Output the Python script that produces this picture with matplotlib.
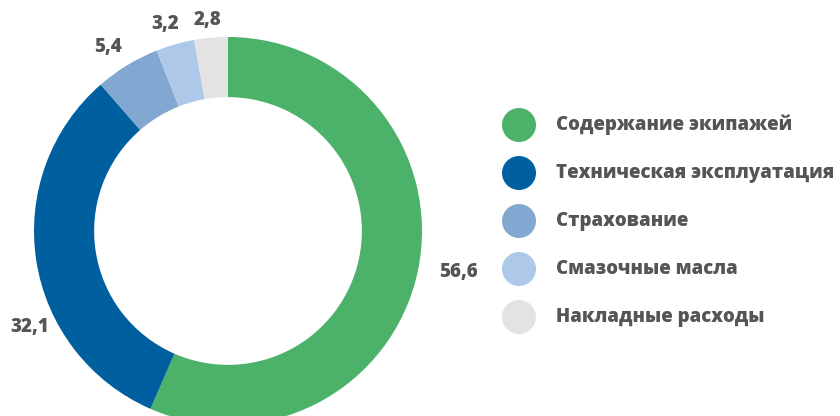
import matplotlib
matplotlib.use("Agg")
import matplotlib.pyplot as plt
from matplotlib.patches import Circle

plt.rcParams['font.family'] = ['Open Sans', 'DejaVu Sans']

# data
categories = ['Содержание экипажей', 'Техническая эксплуатация', 'Страхование',
              'Смазочные масла', 'Накладные расходы']
values = [56.6, 32.1, 5.4, 3.2, 2.8]
value_labels = ['56,6', '32,1', '5,4', '3,2', '2,8']
colors = ['#4CB169', '#00609F', '#82A8D1', '#AEC8EA', '#E3E3E3']

# label positions in donut units (outer radius = 1)
label_pos = [(1.19, -0.21), (-1.02, -0.495), (-0.62, 0.95), (-0.325, 1.065), (-0.108, 1.09)]

W, H = 840, 416
fig = plt.figure(figsize=(W / 100, H / 100), dpi=100)

cx, cy, R = 228, 231, 194
ax = fig.add_axes([(cx - R) / W, (H - cy - R) / H, 2 * R / W, 2 * R / H])
ax.pie(values, colors=colors, startangle=90, counterclock=False,
       radius=1, wedgeprops=dict(width=0.31, edgecolor='none'))
ax.set_xlim(-1, 1)
ax.set_ylim(-1, 1)
ax.set_aspect('equal')
ax.axis('off')
for (x, y), t in zip(label_pos, value_labels):
    ax.text(x, y, t, ha='center', va='center', fontsize=13.5, fontweight='heavy',
            color='#555555', clip_on=False)

# legend
lg = fig.add_axes([0, 0, 1, 1])
lg.set_xlim(0, W)
lg.set_ylim(H, 0)
lg.axis('off')
for i, (c, name) in enumerate(zip(colors, categories)):
    y = 125 + 48 * i
    lg.add_patch(Circle((519, y), 17, color=c, ec='none'))
    lg.text(556, y, name, ha='left', va='center', fontsize=13.4, fontweight='heavy',
            color='#555555')

fig.savefig('out.png', dpi=100)
